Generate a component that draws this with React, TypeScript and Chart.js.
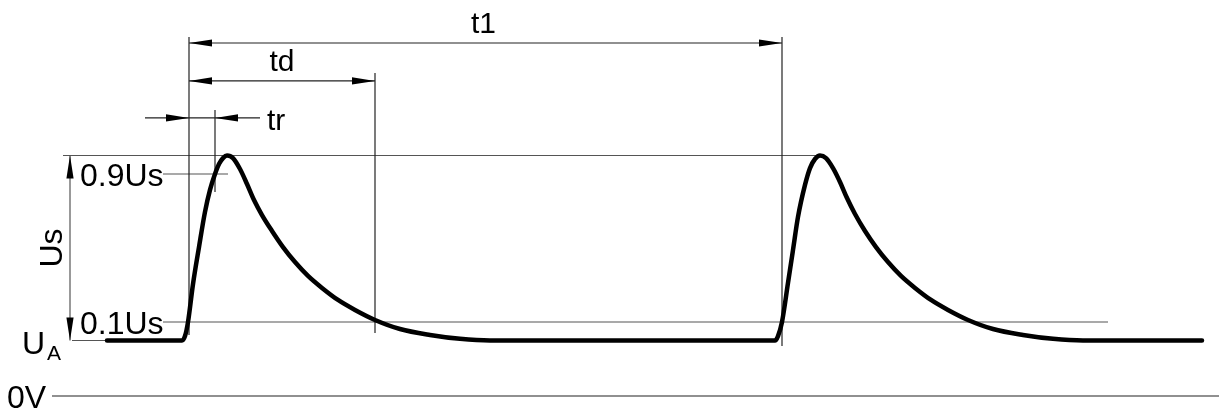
import React, { useEffect, useRef } from 'react';
import { Chart, registerables } from 'chart.js';

Chart.register(...registerables);

// Time in arbitrary units (first pulse starts at t = 0); voltage in units of Us with 0V = 0.
const waveTime = [
  -7.5, 0, 0.3, 0.6, 1.1, 1.7, 2.3, 2.8, 3.3, 3.7, 4.1, 4.5, 5.1, 5.8, 6.5, 7.2, 8.0, 9.0, 10.1,
  11.3, 12.6, 14.0, 15.6, 17.3, 19.3, 21.8, 24.8, 27.8, 30.8,
  59.3, 59.6, 60.0, 60.6, 61.1, 61.6, 62.3, 62.8, 63.3, 63.8, 64.4, 65.1, 65.8, 66.5, 67.3, 68.3,
  69.4, 70.6, 71.9, 73.3, 74.9, 76.6, 78.6, 81.1, 84.1, 87.1, 90.1, 102.0,
];
const waveVolt = [
  0.3, 0.3, 0.324, 0.4, 0.605, 0.805, 0.995, 1.114, 1.2, 1.254, 1.286, 1.3, 1.286, 1.227, 1.146,
  1.059, 0.978, 0.892, 0.805, 0.724, 0.649, 0.584, 0.519, 0.465, 0.411, 0.362, 0.33, 0.309, 0.3,
  0.3, 0.324, 0.4, 0.611, 0.789, 0.968, 1.141, 1.232, 1.281, 1.3, 1.286, 1.232, 1.157, 1.07,
  0.984, 0.892, 0.805, 0.724, 0.649, 0.584, 0.519, 0.465, 0.411, 0.362, 0.33, 0.309, 0.3, 0.3,
];

// Reference levels
const levelNames = ['0V', 'UA', '0.1Us', '0.9Us', 'Us'];
const levelValues = [0, 0.3, 0.4, 1.2, 1.3];

// Time markers: start of rise (10%), 90% point, td end, t1 end, peaks
const markerNames = ['t0', 't90', 'td', 't1', 'peak1', 'peak2'];
const markerTimes = [0.7, 3.3, 19.3, 60.0, 4.6, 63.8];

const X_MIN = -18.2;
const X_MAX = 103.7;
const Y_MIN = -0.0973;
const Y_MAX = 2.1405;

const FONT = '"Liberation Sans", Arial, sans-serif';

function lvl(name: string) {
  return levelValues[levelNames.indexOf(name)];
}
function mk(name: string) {
  return markerTimes[markerNames.indexOf(name)];
}

function arrow(ctx: CanvasRenderingContext2D, tx: number, ty: number, dx: number, dy: number) {
  const len = 23;
  const half = 3.6;
  const bx = tx - dx * len;
  const by = ty - dy * len;
  const nx = -dy;
  const ny = dx;
  ctx.beginPath();
  ctx.moveTo(tx, ty);
  ctx.lineTo(bx + nx * half, by + ny * half);
  ctx.lineTo(bx - nx * half, by - ny * half);
  ctx.closePath();
  ctx.fill();
}

function seg(ctx: CanvasRenderingContext2D, x1: number, y1: number, x2: number, y2: number) {
  ctx.beginPath();
  ctx.moveTo(x1, y1);
  ctx.lineTo(x2, y2);
  ctx.stroke();
}

const dimensionPlugin = {
  id: 'dimensions',
  beforeDatasetsDraw(chart: any) {
    const ctx: CanvasRenderingContext2D = chart.ctx;
    const X = (t: number) => chart.scales.x.getPixelForValue(t);
    const Y = (v: number) => chart.scales.y.getPixelForValue(v);
    ctx.save();
    ctx.lineWidth = 1.2;
    ctx.strokeStyle = '#555';
    // reference horizontal lines
    seg(ctx, X(-11.9), Y(lvl('Us')), X(mk('peak2')), Y(lvl('Us')));
    seg(ctx, X(-1.9), Y(lvl('0.9Us')), X(mk('peak1')), Y(lvl('0.9Us')));
    seg(ctx, X(-1.9), Y(lvl('0.1Us')), X(92.6), Y(lvl('0.1Us')));
    seg(ctx, X(-11.0), Y(lvl('UA')), X(0), Y(lvl('UA')));
    ctx.strokeStyle = '#222';
    seg(ctx, X(-13.0), Y(lvl('0V')), X(X_MAX), Y(lvl('0V')));

    // extension lines
    ctx.strokeStyle = '#222';
    ctx.lineWidth = 1.2;
    seg(ctx, X(mk('t0')), Y(1.941), X(mk('t0')), Y(0.33));
    seg(ctx, X(mk('t90')), Y(1.546), X(mk('t90')), Y(1.103));
    seg(ctx, X(mk('td')), Y(1.746), X(mk('td')), Y(0.34));
    seg(ctx, X(mk('t1')), Y(1.941), X(mk('t1')), Y(0.27));

    // dimension lines
    ctx.fillStyle = '#000';
    const yT1 = Y(1.908);
    seg(ctx, X(mk('t0')), yT1, X(mk('t1')), yT1);
    arrow(ctx, X(mk('t0')), yT1, -1, 0);
    arrow(ctx, X(mk('t1')), yT1, 1, 0);

    const yTd = Y(1.703);
    seg(ctx, X(mk('t0')), yTd, X(mk('td')), yTd);
    arrow(ctx, X(mk('t0')), yTd, -1, 0);
    arrow(ctx, X(mk('td')), yTd, 1, 0);

    const yTr = Y(1.503);
    seg(ctx, X(-3.7), yTr, X(7.8), yTr);
    arrow(ctx, X(mk('t0')), yTr, 1, 0);
    arrow(ctx, X(mk('t90')), yTr, -1, 0);

    // Us dimension (vertical)
    ctx.strokeStyle = '#555';
    const xUs = X(-11.2);
    seg(ctx, xUs, Y(lvl('Us')), xUs, Y(lvl('UA')));
    arrow(ctx, xUs, Y(lvl('Us')), 0, -1);
    arrow(ctx, xUs, Y(lvl('UA')), 0, 1);
    ctx.restore();
  },
  afterDatasetsDraw(chart: any) {
    const ctx: CanvasRenderingContext2D = chart.ctx;
    const X = (t: number) => chart.scales.x.getPixelForValue(t);
    const Y = (v: number) => chart.scales.y.getPixelForValue(v);
    ctx.save();
    ctx.fillStyle = '#000';
    ctx.textBaseline = 'alphabetic';

    ctx.font = `30px ${FONT}`;
    ctx.textAlign = 'center';
    ctx.fillText('t1', (X(mk('t0')) + X(mk('t1'))) / 2 - 2, Y(1.908) - 10);
    ctx.fillText('td', (X(mk('t0')) + X(mk('td'))) / 2, Y(1.703) - 10);
    ctx.textAlign = 'left';
    ctx.fillText('tr', X(7.8) + 7, Y(1.503) + 12);

    ctx.font = `32px ${FONT}`;
    const xl = X(-11.2) + 10;
    ctx.fillText('0.9Us', xl, Y(lvl('0.9Us')) + 12);
    ctx.fillText('0.1Us', xl, Y(lvl('0.1Us')) + 12);
    ctx.fillText('U', 22, Y(lvl('UA')) + 14);
    ctx.font = `21px ${FONT}`;
    ctx.fillText('A', 47, Y(lvl('UA')) + 20);
    ctx.font = `32px ${FONT}`;
    ctx.fillText('0V', 7, Y(lvl('0V')) + 12);

    ctx.translate(X(-11.2) - 8, (Y(lvl('Us')) + Y(lvl('UA'))) / 2);
    ctx.rotate(-Math.PI / 2);
    ctx.textAlign = 'center';
    ctx.textBaseline = 'alphabetic';
    ctx.fillText('Us', 0, 0);
    ctx.restore();
  },
};

export default function App() {
  const canvasRef = useRef<HTMLCanvasElement | null>(null);
  useEffect(() => {
    const canvas = canvasRef.current;
    if (!canvas) return;
    const data = waveTime.map((t, i) => ({ x: t, y: waveVolt[i] }));
    const chart = new Chart(canvas, {
      type: 'line',
      data: {
        datasets: [
          {
            label: 'pulse',
            data,
            borderColor: '#000',
            borderWidth: 4.5,
            pointRadius: 0,
            cubicInterpolationMode: 'monotone',
            fill: false,
            borderCapStyle: 'round',
            borderJoinStyle: 'round',
          } as any,
        ],
      },
      options: {
        animation: false,
        responsive: true,
        maintainAspectRatio: false,
        layout: { padding: 0 },
        plugins: { legend: { display: false }, tooltip: { enabled: false }, title: { display: false } },
        scales: {
          x: { type: 'linear', min: X_MIN, max: X_MAX, display: false },
          y: { type: 'linear', min: Y_MIN, max: Y_MAX, display: false },
        },
      },
      plugins: [dimensionPlugin],
    });
    return () => chart.destroy();
  }, []);
  return (
    <div style={{ position: 'fixed', left: 0, top: 0, width: 1219, height: 414, background: '#fff' }}>
      <canvas ref={canvasRef} />
    </div>
  );
}
